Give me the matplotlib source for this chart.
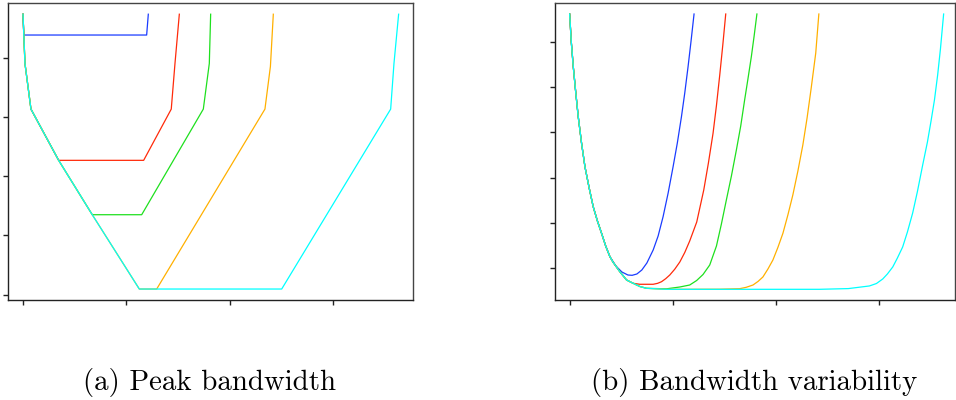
import matplotlib
matplotlib.use('Agg')
import matplotlib.pyplot as plt

# ---- panel (a): peak bandwidth ----
a_shared_x = [0.0, 0.019, 0.077, 0.345, 0.670, 1.125]
a_shared_y = [4.73, 3.90, 3.13, 2.266, 1.349, 0.096]

a_blue_x = [0.0, 0.008, 1.196, 1.212]
a_blue_y = [4.73, 4.379, 4.379, 4.73]
a_red_x = a_shared_x[:4] + [1.167, 1.434, 1.470, 1.512]
a_red_y = a_shared_y[:4] + [2.266, 3.13, 3.90, 4.73]
a_green_x = a_shared_x[:5] + [1.148, 1.744, 1.802, 1.815]
a_green_y = a_shared_y[:5] + [1.349, 3.13, 3.90, 4.73]
a_orange_x = a_shared_x + [1.293, 2.340, 2.393, 2.421]
a_orange_y = a_shared_y + [0.096, 3.13, 3.85, 4.73]
a_cyan_x = a_shared_x + [2.502, 3.556, 3.588, 3.633]
a_cyan_y = a_shared_y + [0.096, 3.13, 3.90, 4.73]

# ---- panel (b): bandwidth variability ----
b_shared_x = [0.0, 0.015, 0.035, 0.059, 0.083, 0.115, 0.148, 0.189, 0.228,
              0.269, 0.309, 0.349, 0.390]
b_shared_y = [6.614, 6.018, 5.450, 4.881, 4.347, 3.766, 3.243, 2.773, 2.360,
              2.044, 1.773, 1.492, 1.256]
b_low_x = [0.419, 0.486, 0.551, 0.615]
b_low_y = [1.139, 0.925, 0.742, 0.669]
b_floor_x = [0.680, 0.745, 0.938]
b_floor_y = [0.598, 0.558, 0.536]

b_blue_x = b_shared_x + [0.448, 0.506, 0.564, 0.605, 0.651, 0.699, 0.748, 0.809,
                         0.857, 0.905, 0.954, 1.002, 1.043, 1.083, 1.115, 1.147,
                         1.176, 1.205]
b_blue_y = b_shared_y + [1.051, 0.918, 0.852, 0.845, 0.874, 0.962, 1.117, 1.404,
                         1.713, 2.139, 2.662, 3.243, 3.766, 4.347, 4.870, 5.450,
                         6.018, 6.614]
b_red_x = b_shared_x + b_low_x + [0.680, 0.809, 0.852, 0.890, 0.930, 0.970, 1.018,
                                  1.067, 1.115, 1.163, 1.231, 1.299, 1.344, 1.389,
                                  1.422, 1.454, 1.483, 1.512]
b_red_y = b_shared_y + b_low_y + [0.647, 0.647, 0.668, 0.704, 0.770, 0.852, 0.980,
                                  1.139, 1.349, 1.603, 2.022, 2.728, 3.323, 3.980,
                                  4.594, 5.267, 5.918, 6.614]
b_green_x = b_shared_x + b_low_x + [0.680, 0.745, 0.938, 1.067, 1.163, 1.230, 1.292,
                                    1.357, 1.422, 1.470, 1.518, 1.567, 1.615, 1.657,
                                    1.695, 1.727, 1.760, 1.787, 1.814]
b_green_y = b_shared_y + b_low_y + [0.598, 0.558, 0.547, 0.587, 0.631, 0.730, 0.863,
                                    1.073, 1.492, 1.978, 2.508, 3.038, 3.611, 4.139,
                                    4.715, 5.179, 5.671, 6.128, 6.614]
b_orange_x = b_shared_x + b_low_x + b_floor_x + [1.45, 1.647, 1.710, 1.776, 1.825,
                                                 1.872, 1.921, 1.969, 2.017, 2.066,
                                                 2.114, 2.162, 2.211, 2.259, 2.300,
                                                 2.340, 2.384, 2.414]
b_orange_y = b_shared_y + b_low_y + b_floor_y + [0.538, 0.550, 0.580, 0.631, 0.710,
                                                 0.808, 0.985, 1.183, 1.459, 1.773,
                                                 2.177, 2.618, 3.148, 3.722, 4.318,
                                                 4.980, 5.753, 6.614]
b_cyan_x = b_shared_x + b_low_x + b_floor_x + [2.419, 2.70, 2.904, 2.972, 3.033,
                                               3.078, 3.130, 3.175, 3.226, 3.272,
                                               3.323, 3.369, 3.420, 3.466, 3.501,
                                               3.534, 3.565, 3.592, 3.623]
b_cyan_y = b_shared_y + b_low_y + b_floor_y + [0.536, 0.552, 0.610, 0.664, 0.764,
                                               0.874, 1.029, 1.227, 1.470, 1.801,
                                               2.221, 2.695, 3.280, 3.788, 4.252,
                                               4.715, 5.267, 5.841, 6.614]

colors = ['#1a3cff', '#ff2a0a', '#1ee01e', '#ffb000', '#00ffff']

fig = plt.figure(figsize=(9.56, 4.0), dpi=100)
fig.patch.set_facecolor('white')

W, H = 956.0, 400.0
ax_a = fig.add_axes([8 / W, 100 / H, 405 / W, 297 / H])
ax_b = fig.add_axes([554.7 / W, 100 / H, 400.6 / W, 297 / H])

series_a = [(a_blue_x, a_blue_y), (a_red_x, a_red_y), (a_green_x, a_green_y),
            (a_orange_x, a_orange_y), (a_cyan_x, a_cyan_y)]
series_b = [(b_blue_x, b_blue_y), (b_red_x, b_red_y), (b_green_x, b_green_y),
            (b_orange_x, b_orange_y), (b_cyan_x, b_cyan_y)]

for (x, y), c in zip(series_a, colors):
    ax_a.plot(x, y, color=c, lw=0.9, solid_joinstyle='round')
for (x, y), c in zip(series_b, colors):
    ax_b.plot(x, y, color=c, lw=0.9, solid_joinstyle='round')

ax_a.set_xlim(-0.145, 3.772)
ax_a.set_ylim(-0.089, 4.919)
ax_a.set_yticks([0, 1, 2, 3, 4])

ax_b.set_xlim(-0.145, 3.736)
ax_b.set_ylim(0.300, 6.857)
ax_b.set_yticks([1, 2, 3, 4, 5, 6])

for ax in (ax_a, ax_b):
    ax.set_xticks([0, 1, 2, 3])
    ax.set_xticklabels([])
    ax.set_yticklabels([])
    ax.tick_params(direction='out', length=3.5, width=1.0, color='#222222')
    for sp in ax.spines.values():
        sp.set_color('#444444')
        sp.set_linewidth(1.0)
    ax.spines['left'].set_color('#222222')
    ax.spines['bottom'].set_color('#222222')

fig.text(209.5 / W, 10 / H, '(a) Peak bandwidth', family='cmr10', fontsize=20.8,
         ha='center', va='baseline')
fig.text(754 / W, 10 / H, '(b) Bandwidth variability', family='cmr10', fontsize=20.8,
         ha='center', va='baseline')

fig.savefig('out.png', dpi=100, facecolor='white')
